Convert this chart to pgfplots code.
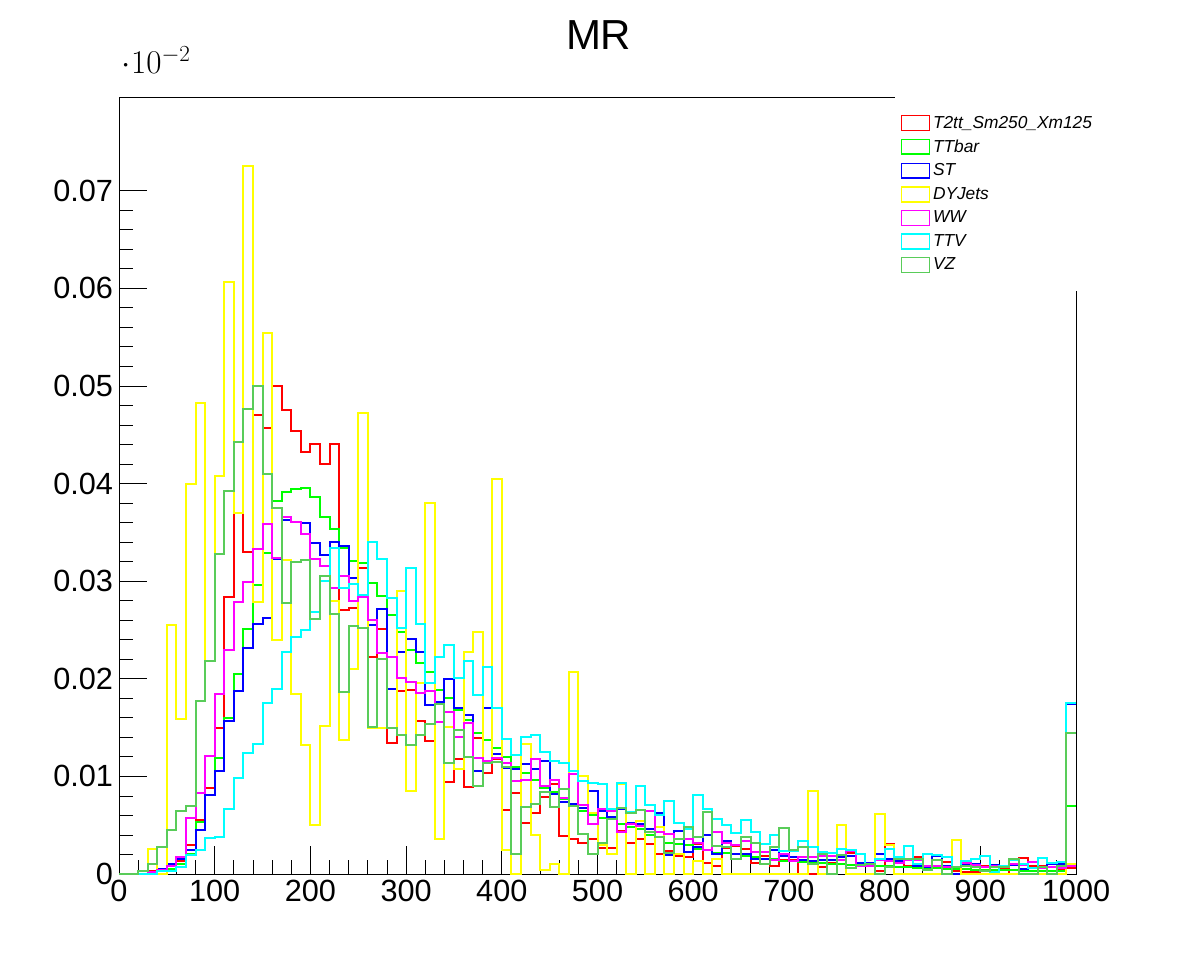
\documentclass[border=0pt]{standalone}
\usepackage{pgfplots}
\usepackage{pgfplotstable}
\usepackage{fontspec}
\setmainfont{Liberation Sans}
\pgfplotsset{compat=1.18}
\definecolor{vz}{RGB}{89,204,89}
\definecolor{yel}{RGB}{255,255,0}
\definecolor{mag}{RGB}{255,0,255}
\definecolor{cya}{RGB}{0,255,255}
\definecolor{grn}{RGB}{0,255,0}
\pgfplotstableread[row sep=\\]{v\\0\\0\\0.3\\0.3\\0.5\\1\\1.3\\3\\5.5\\8.8\\15\\28.4\\37\\33\\47\\45.7\\50\\47.5\\45.4\\43.2\\44\\42\\44\\27\\27.2\\31.3\\22.2\\25.1\\13.4\\18.7\\18.8\\15.7\\13.6\\15.6\\9.4\\11.8\\8.9\\13.9\\10.3\\11.8\\6.6\\8.3\\5.2\\6.3\\7.9\\9.2\\3.9\\3.6\\3.2\\3.6\\2.7\\2.7\\4.4\\3.2\\3.6\\3.1\\2.1\\2.4\\1.8\\1.7\\3.1\\1.1\\0.8\\2.7\\2.9\\2.6\\1.1\\1.8\\0.8\\1.4\\1.4\\0\\0\\0.7\\1.1\\1.4\\2.2\\1.1\\1\\0.3\\3.1\\1.1\\0.8\\1.7\\0.6\\0.8\\1.2\\0.3\\0.2\\0.2\\0.8\\0.8\\0.5\\0\\1.6\\0.8\\0.8\\0.3\\0.5\\0.6\\0.6\\}\tred
\pgfplotstableread[row sep=\\]{v\\0\\0\\0\\0.2\\0.3\\0.5\\1\\2\\5.3\\8.1\\11.9\\16\\20.5\\25.1\\29.6\\32.9\\38.2\\39.1\\39.4\\39.5\\38.6\\36.6\\35.3\\33.4\\32.1\\31.9\\29.8\\28.5\\26.5\\24.8\\22.9\\21.6\\20.7\\18.9\\18\\16.8\\15.8\\14.4\\13.7\\12.9\\12\\11\\10.3\\9.6\\8.8\\8.4\\7.7\\7\\6.5\\6\\5.7\\5.6\\5.1\\4.8\\4.6\\4\\3.8\\3.2\\3.1\\3\\2.6\\2.5\\2.2\\2.2\\2.1\\1.8\\1.7\\1.5\\1.5\\1.3\\1.3\\1.2\\1.2\\1.1\\1\\1\\0.9\\0.9\\0.9\\0.8\\0.8\\0.7\\0.7\\0.6\\0.6\\0.6\\0.5\\0.5\\0.5\\0.4\\0.4\\0.4\\0.4\\0.4\\0.3\\0.3\\0.3\\0.3\\0.3\\7\\7\\}\tttb
\pgfplotstableread[row sep=\\]{v\\0\\0\\0\\0.2\\0.5\\1\\1.5\\2.5\\4.5\\8.1\\10.6\\15.7\\18.7\\23.2\\25.6\\26.2\\32.3\\36.3\\36.1\\36\\33.9\\32.7\\34\\33.6\\30.3\\25.2\\25.5\\27.1\\19\\22.7\\24.1\\22.7\\17.3\\17.6\\20\\17\\16.3\\10.6\\17\\12.3\\10.9\\10.8\\11.3\\10.8\\11.6\\8.2\\7.4\\7.2\\6.8\\8.5\\6.5\\5.8\\6.7\\5.2\\5.1\\4.6\\6.3\\1.9\\4.4\\2.3\\2.8\\4\\2\\3.4\\2.1\\2\\1.5\\1.5\\2.5\\1.8\\1.7\\1.4\\1.3\\1.4\\1.4\\1.7\\1.8\\1.1\\1.1\\2\\1.5\\1.3\\1.4\\0.8\\0.7\\1.8\\0.8\\0\\1\\1\\0.7\\0.9\\0.8\\0.9\\0.5\\0.6\\0.6\\1\\1\\17.4\\17.4\\}\tst
\pgfplotstableread[row sep=\\]{v\\0\\0\\0\\2.6\\0\\25.5\\15.9\\40\\48.3\\21.8\\40.8\\60.6\\37\\72.5\\27.9\\55.4\\24\\32.2\\18.4\\13.2\\5\\15.2\\28\\13.7\\21\\47.2\\15\\15\\15\\29\\8.5\\19.6\\38\\3.6\\15.1\\10.8\\22.7\\24.8\\11.5\\40.5\\2.5\\0\\13.3\\4\\0.4\\1\\0\\20.7\\10\\6.2\\3\\2.1\\9.2\\0\\5.4\\0\\4.8\\0\\2\\0\\1.3\\0\\1.5\\0\\0\\0\\0\\0\\0\\0\\0\\0\\8.5\\0\\0\\5\\0\\0\\0\\6.1\\3\\0\\0\\0\\0\\0\\0\\3.5\\0\\0\\0\\0\\0\\0\\0\\0\\0\\0\\0\\1\\1\\}\tdy
\pgfplotstableread[row sep=\\]{v\\0\\0\\0\\0.2\\0.4\\0.8\\1.7\\5.7\\8.3\\12.1\\18.4\\22.9\\27.9\\29.9\\33.3\\35.9\\32.4\\36.6\\36.1\\34.8\\32.3\\31.6\\29.3\\30.5\\28\\28.4\\26\\22.6\\22.2\\20.1\\19.7\\18.5\\18.7\\15.6\\16.6\\14\\15.5\\11.9\\11.6\\11.9\\11.4\\9.5\\9.6\\11.8\\9\\9.6\\7.8\\10.2\\7.1\\5.1\\6.7\\6.5\\4.3\\5.1\\4.9\\6.5\\4.3\\4.1\\3.6\\3.6\\3.2\\2.5\\4.3\\3.2\\3\\3.4\\2.3\\2.3\\1.4\\2.1\\1.3\\1.7\\1.7\\1.8\\1.8\\1.4\\2.4\\0.8\\0.8\\1.4\\1.3\\1.1\\1.4\\1.4\\0.8\\0.8\\0.7\\0.7\\1.1\\0.9\\0.7\\0.8\\0.8\\1\\0.9\\1.2\\0.6\\0.7\\0.6\\0.8\\0.8\\}\tww
\pgfplotstableread[row sep=\\]{v\\0\\0\\0\\0\\0.3\\0.3\\0.7\\1.9\\2.5\\3.7\\3.8\\6.7\\9.8\\12.4\\13.3\\17.5\\19\\22.7\\24.3\\25\\26.8\\30\\33.4\\29.3\\29.7\\28.6\\34\\32.3\\28.3\\25.2\\31.3\\25.6\\19.6\\22.2\\23.5\\20.1\\21.8\\18.3\\21.2\\17\\13.8\\12.2\\14\\14.2\\12.5\\11.6\\11.4\\10.6\\9.5\\9.3\\9.2\\6.7\\9.3\\6.4\\9\\7.1\\6\\7.5\\5.2\\4.6\\8.1\\6.7\\5.6\\5\\4.2\\5.5\\4.3\\3.1\\4\\2.4\\2.4\\3.4\\2.8\\2.3\\2.2\\2.6\\2.5\\2\\1\\1.5\\2.6\\1.7\\2.9\\1\\2.1\\1.9\\1.7\\0.7\\1.3\\1.5\\1.8\\0.2\\0.8\\1.4\\1\\0.6\\1.6\\1.1\\1.2\\17.5\\17.5\\}\tttv
\pgfplotstableread[row sep=\\]{v\\0\\0\\0.3\\1\\2.8\\4.5\\6.5\\7\\17.7\\21.8\\32.8\\39.2\\44.3\\47.6\\50\\41\\37.5\\27.8\\32\\32.2\\26.1\\30.5\\26.6\\18.6\\25.4\\25.2\\15.1\\22\\15\\14.2\\13.2\\14.2\\15.4\\17.4\\11.4\\14.8\\12\\9\\11.4\\11.5\\11\\2\\6.9\\7.2\\8.4\\6.9\\8.7\\7\\4.1\\2.1\\3.2\\5.6\\6.8\\6.2\\6.6\\4.3\\3.8\\2.2\\3.6\\4.8\\3.8\\6.4\\2.9\\2.8\\1.5\\3.8\\3.2\\1\\2.8\\4.7\\2.5\\2.8\\1\\2.1\\0\\1.9\\0.6\\0.9\\1\\0\\0.7\\1.5\\1.5\\1.5\\0.4\\1.4\\0\\0.7\\0.8\\0.7\\0.3\\0.7\\0.7\\1.5\\0\\0\\0.7\\0\\0.8\\14.4\\14.4\\}\tvz
\pgfplotstablecreatecol[create col/expr={\pgfplotstablerow*10}]{x}\tred
\pgfplotstablecreatecol[create col/expr={\pgfplotstablerow*10}]{x}\tttb
\pgfplotstablecreatecol[create col/expr={\pgfplotstablerow*10}]{x}\tst
\pgfplotstablecreatecol[create col/expr={\pgfplotstablerow*10}]{x}\tdy
\pgfplotstablecreatecol[create col/expr={\pgfplotstablerow*10}]{x}\tww
\pgfplotstablecreatecol[create col/expr={\pgfplotstablerow*10}]{x}\tttv
\pgfplotstablecreatecol[create col/expr={\pgfplotstablerow*10}]{x}\tvz
\begin{document}
\begin{tikzpicture}
\useasboundingbox (0,0) rectangle (897pt,729pt);
\begin{axis}[
  at={(89.25pt,73.5pt)}, anchor=origin,
  scale only axis, width=717.75pt, height=582.75pt,
  xmin=0, xmax=1000, ymin=0, ymax=0.0796,
  xtick={0,100,...,1000},
  xticklabels={0,100,200,300,400,500,600,700,800,900,1000},
  ytick={0,0.01,0.02,0.03,0.04,0.05,0.06,0.07},
  yticklabels={0,0.01,0.02,0.03,0.04,0.05,0.06,0.07},
  minor x tick num=4, minor y tick num=4,
  tick pos=left, tick align=inside,
  major tick length=21pt, minor tick length=10.5pt,
  tick style={black, line width=0.6pt},
  axis line style={line width=0.6pt},
  ticklabel style={font=\fontsize{23}{23}\selectfont},
  yticklabel style={xshift=-1pt},
  xticklabel style={yshift=-1pt},
  every axis plot/.append style={const plot mark left, no marks, line width=1.5pt},
  legend style={at={(0.811,1.0)}, anchor=north west, draw=none, fill=white,
     font=\fontsize{13}{14}\itshape\selectfont, inner xsep=4pt, inner ysep=12pt,
     row sep=3.2pt, cells={anchor=west}},
  legend image code/.code={\draw[#1, line width=1.2pt] (0pt,-5.5pt) rectangle (21pt,5.5pt);},
]
\addplot[red] table[x=x, y expr=\thisrow{v}/1000]{\tred};
\addlegendentry{T2tt\_Sm250\_Xm125}
\addplot[grn] table[x=x, y expr=\thisrow{v}/1000]{\tttb};
\addlegendentry{TTbar}
\addplot[blue] table[x=x, y expr=\thisrow{v}/1000]{\tst};
\addlegendentry{ST}
\addplot[yel] table[x=x, y expr=\thisrow{v}/1000]{\tdy};
\addlegendentry{DYJets}
\addplot[mag] table[x=x, y expr=\thisrow{v}/1000]{\tww};
\addlegendentry{WW}
\addplot[cya] table[x=x, y expr=\thisrow{v}/1000]{\tttv};
\addlegendentry{TTV}
\addplot[vz] table[x=x, y expr=\thisrow{v}/1000]{\tvz};
\addlegendentry{VZ}
\end{axis}
\node[font=\fontsize{31.5}{31.5}\selectfont] at (449pt,703pt) {MR};
\end{tikzpicture}
\end{document}
